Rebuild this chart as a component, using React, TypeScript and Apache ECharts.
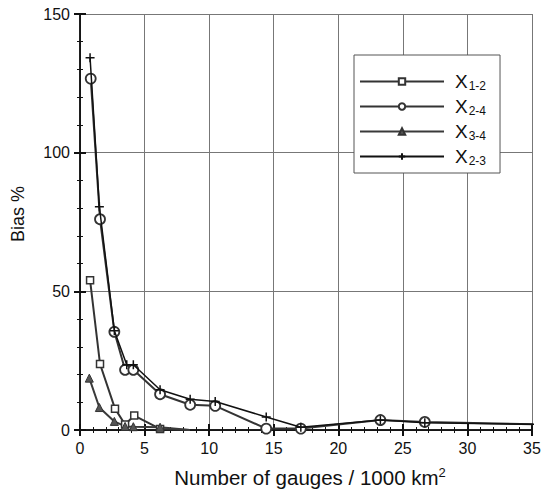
import React, { useEffect, useRef } from "react";
import * as echarts from "echarts";

const seriesNames = ["X_1-2", "X_2-4", "X_3-4", "X_2-3"];
const subs = ["1-2", "2-4", "3-4", "2-3"];

const x12 = [0.78, 1.55, 2.71, 3.49, 4.2, 6.2, 8.5];
const y12 = [54, 23.8, 7.7, 2.0, 5.2, 0.4, 0];

const x24 = [0.83, 1.55, 2.66, 3.49, 4.13, 6.2, 8.53, 10.47, 14.42, 17.1, 23.26, 26.7, 36];
const y24 = [126.7, 76, 35.4, 21.7, 21.7, 12.9, 9.1, 8.7, 0.5, 0.5, 3.6, 2.9, 2.0];

const x34 = [0.72, 1.5, 2.66, 3.49, 4.13, 6.2, 8.5];
const y34 = [18.7, 8.1, 3.1, 1.3, 1.2, 1.0, 0];

const x23 = [0.78, 1.5, 2.66, 3.62, 4.13, 6.2, 8.53, 10.47, 14.42, 17.1, 23.26, 26.7, 36];
const y23 = [134.2, 80.5, 35.8, 23.5, 23.5, 14.5, 11.1, 10.3, 4.7, 1.0, 3.6, 2.6, 2.0];

const xTicks = [0, 5, 10, 15, 20, 25, 30, 35];
const yTicks = [0, 50, 100, 150];

function pairs(xs: number[], ys: number[], hideLast: boolean) {
  return xs.map((x, i) => {
    if (hideLast && i === xs.length - 1) return { value: [x, ys[i]], symbol: "none" };
    return { value: [x, ys[i]] };
  });
}

export default function App() {
  const ref = useRef<HTMLDivElement>(null);
  useEffect(() => {
    if (!ref.current) return;
    const chart = echarts.init(ref.current, null, { renderer: "svg" });
    const font = "Liberation Sans, Arial, sans-serif";
    const axisLine = { show: true, lineStyle: { color: "#111", width: 1.5 } };
    const tick = { show: true, inside: true, length: 6, lineStyle: { color: "#111", width: 2 } };
    const minor = { show: true, splitNumber: 5, length: 3, lineStyle: { color: "#111", width: 1 } };
    const xBase = {
      type: "value" as const,
      min: xTicks[0],
      max: xTicks[xTicks.length - 1],
      interval: 5,
      axisLine,
      axisTick: tick,
      minorTick: minor,
    };
    const yBase = {
      type: "value" as const,
      min: yTicks[0],
      max: yTicks[yTicks.length - 1],
      interval: 50,
      axisLine,
      axisTick: tick,
      minorTick: minor,
    };
    const line = (color: string, width: number) => ({ color, width });
    chart.setOption({
      animation: false,
      grid: { left: 80, right: 12, top: 14, bottom: 61 },
      xAxis: [
        {
          ...xBase,
          position: "bottom",
          splitLine: { show: true, lineStyle: { color: "#777", width: 1 } },
          axisLabel: { fontSize: 16, color: "#111", fontFamily: font, margin: 10 },
          name: "Number of gauges / 1000 km{sup|2}",
          nameLocation: "middle",
          nameGap: 36,
          nameTextStyle: {
            fontSize: 20.5,
            color: "#111",
            fontFamily: font,
            padding: [0, 0, 0, 8],
            rich: { sup: { fontSize: 13, color: "#111", fontFamily: font, padding: [0, 0, 10, 0] } },
          },
        },
        {
          ...xBase,
          position: "top",
          splitLine: { show: false },
          axisLabel: { show: false },
        },
      ],
      yAxis: [
        {
          ...yBase,
          position: "left",
          splitLine: { show: true, lineStyle: { color: "#777", width: 1 } },
          axisLabel: { fontSize: 16, color: "#111", fontFamily: font, margin: 10 },
        },
        {
          ...yBase,
          position: "right",
          splitLine: { show: false },
          axisLabel: { show: false },
        },
      ],
      legend: {
        orient: "vertical",
        left: 354,
        top: 55,
        width: 148,
        backgroundColor: "#fff",
        borderColor: "#555",
        borderWidth: 1,
        borderRadius: 0,
        padding: [16, 14, 6, 5],
        itemWidth: 84,
        itemHeight: 8,
        itemGap: 4,
        data: seriesNames,
        formatter: (name: string) => `{x|X}{s|${subs[seriesNames.indexOf(name)]}}`,
        textStyle: {
          rich: {
            x: { fontSize: 19, lineHeight: 22, color: "#111", fontFamily: font, padding: [0, 0, 0, 6] },
            s: { fontSize: 12, lineHeight: 22, color: "#111", fontFamily: font, padding: [9, 0, 0, 1] },
          },
        },
      },
      graphic: [
        {
          type: "text",
          x: 18,
          y: 214,
          rotation: Math.PI / 2,
          style: {
            text: "Bias %",
            fontSize: 18,
            fill: "#111",
            fontFamily: font,
            align: "center",
            verticalAlign: "middle",
          },
        },
      ],
      series: [
        {
          name: seriesNames[0],
          type: "line",
          data: pairs(x12, y12, true),
          symbol: "rect",
          symbolSize: 7,
          lineStyle: line("#333", 2),
          itemStyle: { color: "#fff", borderColor: "#333", borderWidth: 1.5 },
          z: 3,
        },
        {
          name: seriesNames[1],
          type: "line",
          data: pairs(x24, y24, true),
          symbol: "circle",
          symbolSize: 10,
          lineStyle: line("#333", 2),
          itemStyle: { color: "#fff", borderColor: "#333", borderWidth: 1.8 },
          z: 4,
        },
        {
          name: seriesNames[2],
          type: "line",
          data: pairs(x34, y34, true),
          symbol: "triangle",
          symbolSize: 8,
          lineStyle: line("#3a3a3a", 2),
          itemStyle: { color: "#555", borderColor: "#333", borderWidth: 1 },
          z: 3,
        },
        {
          name: seriesNames[3],
          type: "line",
          data: pairs(x23, y23, true),
          symbol: "path://M5,0L5,10M0,5L10,5",
          symbolSize: 9,
          lineStyle: line("#111", 1.5),
          itemStyle: { color: "#111", borderColor: "#111", borderWidth: 1.5 },
          z: 5,
        },
      ],
    });
    return () => chart.dispose();
  }, []);
  return <div ref={ref} style={{ width: 544, height: 493, position: "absolute", left: 0, top: 0 }} />;
}
